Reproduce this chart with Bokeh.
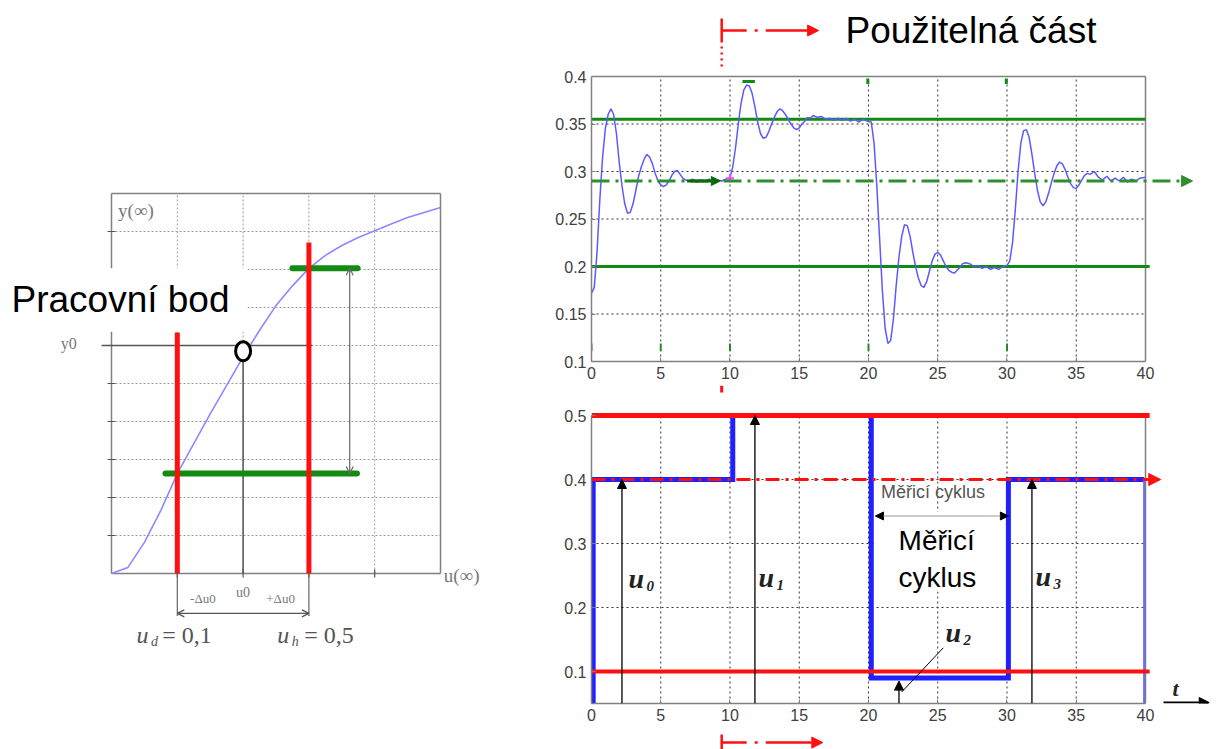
from bokeh.plotting import figure
from bokeh.layouts import row, column
from bokeh.models import Label, Arrow, NormalHead, OpenHead, FixedTicker, Range1d
from bokeh.embed import file_html
from bokeh.resources import INLINE

# ---------------- data: left (static characteristic) ----------------
char_u = [0, 0.25, 0.5, 0.75, 1.0, 1.25, 1.5, 1.75, 2.0, 2.25, 2.5,
          2.75, 3.0, 3.25, 3.5, 3.75, 4.0, 4.25, 4.5, 4.75, 5.0]
char_y = [0.0, 0.16, 0.82, 1.66, 2.63, 3.42, 4.2, 4.95, 5.7, 6.4, 7.05,
          7.57, 8.03, 8.37, 8.63, 8.84, 9.02, 9.2, 9.37, 9.5, 9.63]
left_xgrid = [1, 2, 3, 4]
left_ygrid = [1, 2, 3, 4, 5, 6, 7, 8, 9]
lim_u = [1.0, 3.0]            # u_d, u_h
lim_top = [6.34, 8.71]
out_x0 = [0.82, 2.75]
out_x1 = [3.73, 3.74]
out_y = [2.63, 8.03]
op_u, op_y = 2.0, 6.0

# ---------------- data: top (response) ----------------
resp_t = [
    0.0, 0.2, 0.4, 0.6, 0.8, 1.0, 1.2, 1.4, 1.6, 1.8,
    2.0, 2.2, 2.4, 2.6, 2.8, 3.0, 3.2, 3.4, 3.6, 3.8,
    4.0, 4.2, 4.4, 4.6, 4.8, 5.0, 5.2, 5.4, 5.6, 5.8,
    6.0, 6.2, 6.4, 6.6, 6.8, 7.0, 7.3, 7.6, 7.9, 8.2,
    8.5, 8.8, 9.1, 9.4, 9.7, 10.0, 10.2, 10.4, 10.6, 10.8,
    11.0, 11.2, 11.4, 11.6, 11.8, 12.0, 12.2, 12.4, 12.6, 12.8,
    13.0, 13.2, 13.4, 13.6, 13.8, 14.0, 14.2, 14.4, 14.6, 14.8,
    15.0, 15.2, 15.4, 15.6, 15.8, 16.0, 16.3, 16.6, 16.9, 17.2,
    17.5, 17.8, 18.1, 18.4, 18.7, 19.0, 19.3, 19.6, 19.9, 20.2,
    20.4, 20.6, 20.8, 21.0, 21.2, 21.4, 21.6, 21.8, 22.0, 22.2,
    22.4, 22.6, 22.8, 23.0, 23.2, 23.4, 23.6, 23.8, 24.0, 24.2,
    24.4, 24.6, 24.8, 25.0, 25.2, 25.4, 25.6, 25.8, 26.0, 26.2,
    26.4, 26.6, 26.8, 27.0, 27.3, 27.6, 27.9, 28.2, 28.5, 28.8,
    29.1, 29.4, 29.7, 30.0, 30.2, 30.4, 30.6, 30.8, 31.0, 31.2,
    31.4, 31.6, 31.8, 32.0, 32.2, 32.4, 32.6, 32.8, 33.0, 33.2,
    33.4, 33.6, 33.8, 34.0, 34.2, 34.4, 34.6, 34.8, 35.0, 35.2,
    35.4, 35.6, 35.8, 36.0, 36.3, 36.6, 36.9, 37.2, 37.5, 37.8,
    38.1, 38.4, 38.7, 39.0, 39.3, 39.6, 40.0]
resp_y = [
    0.172, 0.178, 0.215, 0.270, 0.315, 0.345, 0.360, 0.366, 0.360, 0.340,
    0.310, 0.285, 0.266, 0.256, 0.257, 0.266, 0.280, 0.295, 0.305, 0.313,
    0.318, 0.315, 0.308, 0.298, 0.290, 0.286, 0.284, 0.286, 0.290, 0.296,
    0.300, 0.301, 0.297, 0.293, 0.291, 0.290, 0.292, 0.289, 0.291, 0.290,
    0.292, 0.289, 0.291, 0.290, 0.292, 0.293, 0.305, 0.325, 0.350, 0.372,
    0.386, 0.391, 0.390, 0.382, 0.368, 0.352, 0.340, 0.335, 0.336, 0.342,
    0.350, 0.357, 0.363, 0.366, 0.364, 0.360, 0.355, 0.350, 0.346, 0.344,
    0.346, 0.350, 0.353, 0.357, 0.356, 0.359, 0.357, 0.358, 0.355, 0.356,
    0.354, 0.356, 0.354, 0.356, 0.353, 0.355, 0.352, 0.355, 0.353, 0.352,
    0.330, 0.285, 0.230, 0.175, 0.135, 0.119, 0.122, 0.145, 0.180, 0.210,
    0.232, 0.244, 0.243, 0.232, 0.215, 0.200, 0.188, 0.180, 0.178, 0.184,
    0.195, 0.206, 0.213, 0.215, 0.212, 0.206, 0.200, 0.196, 0.194, 0.193,
    0.196, 0.199, 0.203, 0.204, 0.203, 0.200, 0.201, 0.198, 0.200, 0.197,
    0.199, 0.197, 0.200, 0.201, 0.206, 0.225, 0.260, 0.300, 0.330, 0.343,
    0.344, 0.336, 0.318, 0.298, 0.280, 0.268, 0.264, 0.268, 0.277, 0.288,
    0.298, 0.306, 0.310, 0.308, 0.302, 0.294, 0.287, 0.283, 0.282, 0.286,
    0.291, 0.296, 0.298, 0.297, 0.300, 0.294, 0.291, 0.295, 0.290, 0.293,
    0.290, 0.294, 0.289, 0.292, 0.290, 0.293, 0.294]
assert len(resp_t) == len(resp_y)
band_levels = [0.355, 0.2]
op_level = 0.29
x_ticks = [0, 5, 10, 15, 20, 25, 30, 35, 40]
top_yticks = [0.1, 0.15, 0.2, 0.25, 0.3, 0.35, 0.4]
top_ylabels = ["0.1", "0.15", "0.2", "0.25", "0.3", "0.35", "0.4"]
green_tick_t = [0, 5, 10, 20, 30]

# ---------------- data: bottom (input steps) ----------------
step_t = [0.12, 0.12, 10.2, 10.2, 20.2, 20.2, 30.1, 30.1, 39.9]
step_u = [0.05, 0.4, 0.4, 0.5, 0.5, 0.09, 0.09, 0.4, 0.4]
u_max, u_min, u_work = 0.5, 0.1, 0.4
bot_yticks = [0.1, 0.2, 0.3, 0.4, 0.5]
bot_ylabels = ["0.1", "0.2", "0.3", "0.4", "0.5"]
mark_t = [2.2, 11.8, 22.2, 31.8]
mark_top = [0.4, 0.5, 0.085, 0.4]
mark_sub = ["0", "1", "2", "3"]
mark_lab_t = [2.67, 12.06, 25.56, 32.06]
mark_lab_y = [0.245, 0.247, 0.161, 0.248]
usable_t = 9.4
cycle_t = [20.5, 30.1]

RED = "#ff1010"
GREEN = "#138a13"
BLUE = "#1f1fff"
GRAY = "#808080"
TICKC = "#404040"
SERIF = "Liberation Serif"


def lab(p, x, y, text, size, color="black", font="Liberation Sans", style="normal",
        align="left", baseline="middle", **kw):
    p.add_layout(Label(x=x, y=y, text=text, text_font=font, text_font_size=f"{size}px",
                       text_color=color, text_font_style=style, text_align=align,
                       text_baseline=baseline, **kw))


def arr(p, x0, y0, x1, y1, color, width, dash="solid", end=None, start=None):
    p.add_layout(Arrow(x_start=x0, y_start=y0, x_end=x1, y_end=y1, line_color=color,
                       line_width=width, line_dash=dash, end=end, start=start))


def head(color, size):
    return NormalHead(size=size, fill_color=color, line_color=color, line_width=1)


def style_axes(p, xt, yt, xb, yb):
    p.outline_line_color = None
    p.xgrid.visible = False
    p.ygrid.visible = False
    for ax, tk, bd in ((p.xaxis, xt, xb), (p.yaxis, yt, yb)):
        ax.ticker = FixedTicker(ticks=tk)
        ax.bounds = bd
        ax.axis_line_color = GRAY
        ax.axis_line_width = 1.5
        ax.major_tick_line_color = GRAY
        ax.major_tick_in = 4
        ax.major_tick_out = 0
        ax.minor_tick_line_color = None
        ax.major_label_text_color = TICKC
        ax.major_label_text_font = "Liberation Sans"
        ax.major_label_text_font_size = "16px"
        ax.major_label_standoff = 5


def box_grid(p, x0, x1, y0, y1, gx, gy, color="#333333", dash="2 3"):
    p.segment(x0=gx, y0=[y0] * len(gx), x1=gx, y1=[y1] * len(gx),
              line_color=color, line_dash=dash, line_width=1)
    p.segment(x0=[x0] * len(gy), y0=gy, x1=[x1] * len(gy), y1=gy,
              line_color=color, line_dash=dash, line_width=1)
    p.segment(x0=[x0, x1], y0=[y1, y0], x1=[x1, x1], y1=[y1, y1],
              line_color=GRAY, line_width=1.5)


# ================= LEFT FIGURE (frame spans its whole canvas) =================
L = figure(width=546, height=749, x_range=Range1d(-1.687, 6.611), y_range=Range1d(-4.632, 15.079),
           output_backend="svg", toolbar_location=None,
           min_border_left=0, min_border_right=0, min_border_top=0, min_border_bottom=0)
L.axis.visible = False
L.grid.visible = False
L.outline_line_color = None
box_grid(L, 0, 5, 0, 10, left_xgrid, left_ygrid, color="#9a9a9a", dash="2 2")
L.segment(x0=[0, 0], y0=[0, 0], x1=[0, 5], y1=[10, 0], line_color=GRAY, line_width=1.5)
L.scatter([0] * len(left_ygrid), left_ygrid, marker="dash", size=8, line_color="#555555", line_width=1.2)
L.scatter(left_xgrid, [0] * len(left_xgrid), marker="dash", angle=1.5708, size=8,
          line_color="#555555", line_width=1.2)
# white panel behind the "Pracovní bod" caption
L.quad(left=[-1.535], right=[2.067], bottom=[6.36], top=[8.03], fill_color="white", line_color=None)

L.line(char_u, char_y, line_color="#8a8aff", line_width=1.6)
L.segment(x0=[op_u], y0=[0], x1=[op_u], y1=[op_y - 0.4], line_color="#555555", line_width=1.5)
L.segment(x0=[-0.15], y0=[op_y], x1=[3.05], y1=[op_y], line_color="#555555", line_width=1.5)
L.segment(x0=out_x0, y0=out_y, x1=out_x1, y1=out_y, line_color=GREEN, line_width=6, line_cap="round")
L.segment(x0=lim_u, y0=[0, 0], x1=lim_u, y1=lim_top, line_color=RED, line_width=5)
L.ellipse(x=[op_u], y=[op_y - 0.15], width=15, height=19, width_units="screen", height_units="screen",
          fill_color="white", line_color="black", line_width=3)
arr(L, 3.62, out_y[1], 3.62, out_y[0], "#666666", 1.2,
    end=OpenHead(size=7, line_color="#666666", line_width=1.2),
    start=OpenHead(size=7, line_color="#666666", line_width=1.2))
L.segment(x0=lim_u, y0=[0, 0], x1=lim_u, y1=[-1.12, -1.12], line_color="#666666", line_width=1.2)
arr(L, lim_u[0], -1.05, lim_u[1], -1.05, "#555555", 1.2,
    end=OpenHead(size=7, line_color="#555555", line_width=1.2),
    start=OpenHead(size=7, line_color="#555555", line_width=1.2))

lab(L, 0.1, 9.55, "y(∞)", 19, color="#777777", font=SERIF)
lab(L, 5.05, -0.05, "u(∞)", 19, color="#777777", font=SERIF)
lab(L, -0.53, 6.05, "y0", 16, color="#777777", font=SERIF, align="right")
lab(L, 1.39, -0.66, "-Δu0", 13, color="#777777", font=SERIF, align="center")
lab(L, 2.0, -0.5, "u0", 14, color="#777777", font=SERIF, align="center")
lab(L, 2.57, -0.66, "+Δu0", 13, color="#777777", font=SERIF, align="center")
lab(L, 0.38, -1.63, "u", 24, color="#555555", font=SERIF, style="italic")
lab(L, 0.6, -1.8, "d", 14, color="#555555", font=SERIF, style="italic")
lab(L, 0.77, -1.63, "= 0,1", 24, color="#555555", font=SERIF)
lab(L, 2.52, -1.63, "u", 24, color="#555555", font=SERIF, style="italic")
lab(L, 2.74, -1.8, "h", 14, color="#555555", font=SERIF, style="italic")
lab(L, 2.93, -1.63, "= 0,5", 24, color="#555555", font=SERIF)
lab(L, -1.52, 7.2, "Pracovní bod", 37)

# ================= shared time axis =================
t_range = Range1d(0, 45.343)

# ================= TOP RIGHT FIGURE =================
T = figure(width=673, height=385, x_range=t_range, y_range=Range1d(0.1, 0.48),
           output_backend="svg", toolbar_location=None,
           min_border_left=45, min_border_right=0, min_border_top=0, min_border_bottom=24)
style_axes(T, x_ticks, top_yticks, (0, 40), (0.1, 0.4))
T.yaxis.major_label_overrides = dict(zip(top_yticks, top_ylabels))
box_grid(T, 0, 40, 0.1, 0.4, x_ticks[1:-1], top_yticks[1:-1])

T.segment(x0=[0, 0], y0=band_levels, x1=[40, 40.3], y1=band_levels, line_color=GREEN, line_width=3)
T.segment(x0=green_tick_t, y0=[0.111] * 5, x1=green_tick_t, y1=[0.119] * 5, line_color="#2a8a2a", line_width=2)
T.segment(x0=[10.9, 19.95, 29.95], y0=[0.3947, 0.392, 0.392], x1=[11.8, 19.95, 29.95],
          y1=[0.3947, 0.398, 0.398], line_color=GREEN, line_width=3)
T.line(resp_t, resp_y, line_color="#5a5aff", line_width=1.5)
arr(T, 0, op_level, 43.4, op_level, "#2f8f2f", 3, dash="18 6 3 6", end=head("#2f8f2f", 11))
arr(T, 6.9, op_level, 9.3, op_level, "#0a6a0a", 3, end=head("#0a6a0a", 9))
T.scatter([10], [0.293], marker="cross", size=8, line_color="#ff40ff", line_width=2)

# usable-part marker above the plot box
arr(T, usable_t, 0.4611, usable_t, 0.4358, RED, 2.5)
arr(T, usable_t, 0.4316, usable_t, 0.4105, RED, 2.5, dash="2 4")
arr(T, usable_t, 0.4484, 16.4, 0.4484, RED, 2.5, dash="25 8 3 8 200", end=head(RED, 11))
lab(T, 18.34, 0.4484, "Použitelná část", 37)

# ================= BOTTOM RIGHT FIGURE =================
B = figure(width=673, height=343, x_range=t_range, y_range=Range1d(0.05, 0.5469),
           output_backend="svg", toolbar_location=None,
           min_border_left=45, min_border_right=0, min_border_top=0, min_border_bottom=25)
style_axes(B, x_ticks, bot_yticks, (0, 40), (0.05, 0.5))
B.yaxis.major_label_overrides = dict(zip(bot_yticks, bot_ylabels))
box_grid(B, 0, 40, 0.05, 0.5, x_ticks[1:-1], bot_yticks[:-1])
# white panel behind the "Měřicí cyklus" caption
B.quad(left=[20.4], right=[30.0], bottom=[0.225], top=[0.35], fill_color="white", line_color=None)

B.line(step_t, step_u, line_color=BLUE, line_width=5, line_join="miter")
B.segment(x0=[39.9], y0=[0.4], x1=[39.9], y1=[0.05], line_color="#6a6aff", line_width=2)
B.segment(x0=[0, 0], y0=[u_min, u_max], x1=[40.3, 40.3], y1=[u_min, u_max],
          line_color=RED, line_width=[4, 5])
arr(B, 0, u_work, 41.1, u_work, RED, 3, dash="14 6 3 6", end=head(RED, 12))
B.segment(x0=[usable_t], y0=[0.5469], x1=[usable_t], y1=[0.536], line_color=RED, line_width=3)

for t0, top, sub, lt, ly in zip(mark_t, mark_top, mark_sub, mark_lab_t, mark_lab_y):
    arr(B, t0, 0.05, t0, top, "black", 1.3, end=head("black", 9))
    lab(B, lt, ly, "u", 28, color="#222222", font=SERIF, style="bold italic")
    lab(B, lt + 1.3, ly - 0.012, sub, 15, color="#222222", font=SERIF, style="bold italic")
B.segment(x0=[25.4], y0=[0.137], x1=[22.4], y1=[0.068], line_color="black", line_width=1)

lab(B, 20.9, 0.381, "Měřicí cyklus", 18, color="#555555")
arr(B, cycle_t[0], 0.343, cycle_t[1], 0.343, "#999999", 1.2,
    end=head("black", 8), start=head("black", 8))
lab(B, 22.17, 0.3047, "Měřicí", 28)
lab(B, 22.17, 0.2469, "cyklus", 28)

lab(B, 41.95, 0.0734, "t", 22, color="#222222", font=SERIF, style="bold italic")
arr(B, 41.3, 0.0515, 44.6, 0.0515, "black", 2, end=head("black", 10))

# ================= FOOTER (marker under the time axis) =================
F = figure(width=673, height=21, x_range=t_range, y_range=Range1d(0, 1),
           output_backend="svg", toolbar_location=None,
           min_border_left=45, min_border_right=0, min_border_top=0, min_border_bottom=0)
F.axis.visible = False
F.grid.visible = False
F.outline_line_color = None
F.segment(x0=[usable_t], y0=[0.72], x1=[usable_t], y1=[0.0], line_color=RED, line_width=2.5)
arr(F, usable_t, 0.33, 16.7, 0.33, RED, 2.5, dash="25 8 3 8 200", end=head(RED, 11))

p = row(L, column(T, B, F))
open("out.html", "w").write(file_html(p, INLINE))
